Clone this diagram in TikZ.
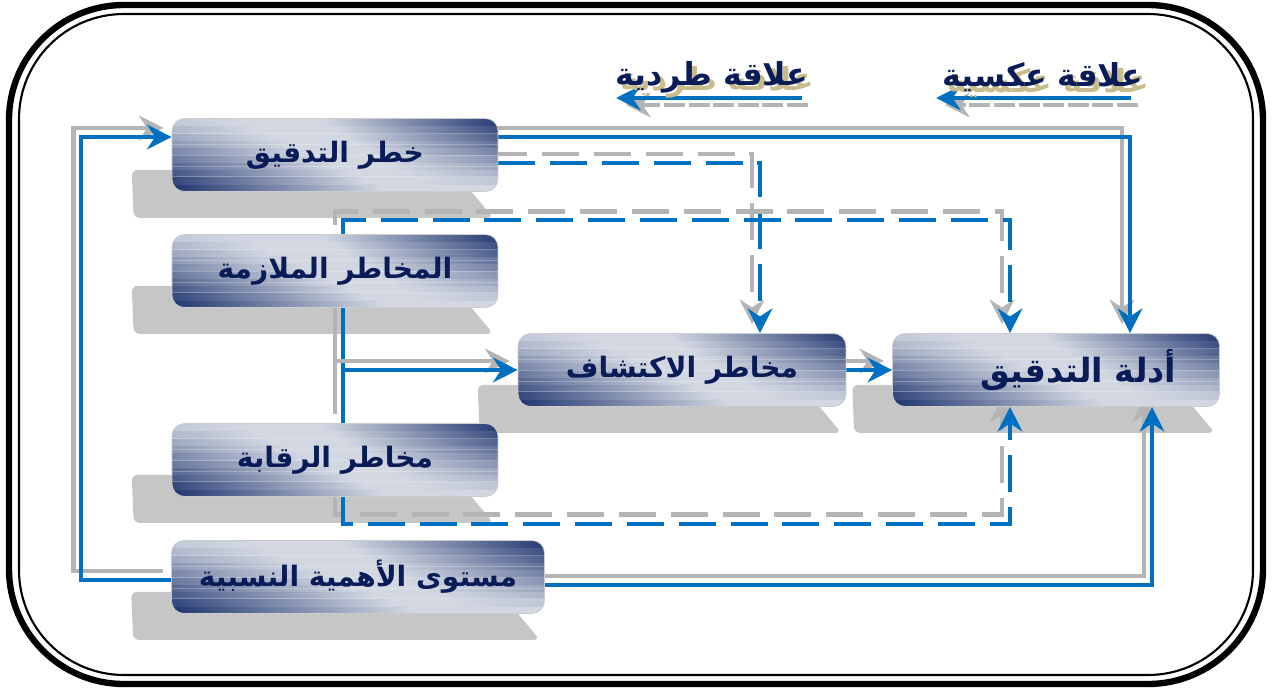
\documentclass[tikz,border=0pt]{standalone}
\usepackage{fontspec}
\usetikzlibrary{arrows.meta,calc}
\newfontfamily\arabicfont[Script=Arabic]{DejaVu Sans}
\TeXXeTstate=1
\definecolor{linkblue}{RGB}{0,112,192}
\definecolor{linkgray}{RGB}{180,180,180}
\definecolor{boxnavy}{RGB}{26,48,108}
\definecolor{boxlight}{RGB}{210,215,225}
\definecolor{textnavy}{RGB}{10,28,88}
\definecolor{sandshade}{RGB}{200,188,140}
\pgfdeclarelayer{shadows}
\pgfdeclarelayer{lines}
\pgfsetlayers{shadows,lines,main}
\newcommand\artext[1]{{\arabicfont\bfseries\beginR #1\endR}}
\newcommand\sandtext[1]{\makebox[0pt][l]{\kern3pt\raisebox{-3pt}{\color{sandshade}\artext{#1}}}\artext{#1}}
\newcommand\relink[2]{\draw[linkshade,#1] #2; \draw[linkline,#1] #2;}
\newcommand\boxshadow[1]{\fill[boxshade] ($(#1.south west)+(-40,-22)$) -- ($(#1.south east)+(-45,-22)$) -- ($(#1.south east)+(-5,26)$) -- ($(#1.south west)+(-38,26)$) -- cycle;}

\begin{document}
\begin{tikzpicture}[x=0.02cm,y=-0.02cm,>={Stealth[length=14pt,width=14pt,inset=4.5pt]},
    riskbox/.style={fill=boxlight,rounded corners=0.25cm,draw=gray!40,line width=0.4pt,
        minimum width=6.52cm,minimum height=1.46cm,inner sep=0pt,text=textnavy,font=\fontsize{16}{19}\selectfont,
        path picture={
            \foreach \i in {0,...,9}{
                \pgfmathsetmacro\stlo{\i/10}
                \pgfmathsetmacro\sthi{(\i+1)/10}
                \pgfmathtruncatemacro\stdk{96*(1-\i/10)}
                \pgfmathsetmacro\stwd{0.64-0.048*\i}
                \pgfmathtruncatemacro\stdr{92*\i/9}
                \pgfmathsetmacro\stwr{0.78-0.035*\i}
                \coordinate (a) at ($(path picture bounding box.south west)!\stlo!(path picture bounding box.north west)$);
                \coordinate (b) at ($(path picture bounding box.south west)!\sthi!(path picture bounding box.north west)$);
                \coordinate (c) at ($(path picture bounding box.south west)!\stwd!(path picture bounding box.south east)$);
                \coordinate (d) at ($(path picture bounding box.south west)!\stwr!(path picture bounding box.south east)$);
                \coordinate (e) at ($(path picture bounding box.south east)!\sthi!(path picture bounding box.north east)$);
                \shade[sharp corners,left color=boxnavy!\stdk!boxlight,right color=boxlight] (a) rectangle (c |- b);
                \shade[sharp corners,left color=boxlight,right color=boxnavy!\stdr!boxlight] (d |- a) rectangle (e);
            }
            \foreach \k in {0.2,0.35,...,0.9}
                \draw[sharp corners,white,opacity=0.25,line width=0.5pt] ($(path picture bounding box.south west)!\k!(path picture bounding box.north west)$) -- ($(path picture bounding box.south east)!\k!(path picture bounding box.north east)$);}},
    boxshade/.style={fill=gray!45,rounded corners=0.12cm},
    linkline/.style={linkblue,line width=2.3pt},
    linkshade/.style={linkgray,line width=2.8pt,transform canvas={shift={(-8,-9)}}},
    brokenline/.style={dash pattern=on 21pt off 8.5pt},
    legendtext/.style={inner sep=0pt,text=textnavy,font=\fontsize{18}{21}\selectfont}]
    \useasboundingbox (0,0) rectangle (1272,689);
    \draw[line width=3.6pt,rounded corners=2.3cm] (9,5) rectangle (1263,684);
    \draw[line width=1.2pt,rounded corners=2.1cm] (19,14) rectangle (1253,675);

    \node[riskbox] (ar) at (335,155) {\artext{خطر التدقيق}};
    \node[riskbox] (inh) at (335,271) {\artext{المخاطر الملازمة}};
    \node[riskbox,minimum width=6.56cm] (det) at (682,370) {\artext{مخاطر الاكتشاف}};
    \node[riskbox,minimum width=6.54cm,font=\fontsize{19}{23}\selectfont] (ev) at (1056,370) {\hspace*{0.9cm}\artext{أدلة التدقيق}};
    \node[riskbox] (ctl) at (335,460) {\artext{مخاطر الرقابة}};
    \node[riskbox,minimum width=7.46cm] (mat) at (358,577) {\artext{مستوى الأهمية النسبية}};

    \node[legendtext] (legdir) at (712,80) {\sandtext{علاقة طردية}};
    \node[legendtext] (leginv) at (1043,80) {\sandtext{علاقة عكسية}};

    \coordinate (inhtop) at ($(inh.north)+(8,0)$);
    \coordinate (inhbot) at ($(inh.south)+(8,0)$);
    \coordinate (ctlbot) at ($(ctl.south)+(8,0)$);

    \begin{pgfonlayer}{shadows}
        \boxshadow{ar}
        \boxshadow{inh}
        \boxshadow{det}
        \boxshadow{ev}
        \boxshadow{ctl}
        \boxshadow{mat}
    \end{pgfonlayer}

    \begin{pgfonlayer}{lines}
        \draw[->,linkgray,line width=2.3pt,dash pattern=on 12pt off 2pt] ($(legdir.center)+(96,25)$) -- ($(legdir.center)+(-86,25)$);
        \draw[->,linkline] ($(legdir.center)+(90,18)$) -- ($(legdir.center)+(-96,18)$);
        \draw[->,linkgray,line width=2.3pt,dash pattern=on 12pt off 2pt] ($(leginv.center)+(95,25)$) -- ($(leginv.center)+(-98,25)$);
        \draw[->,linkline] ($(leginv.center)+(88,18)$) -- ($(leginv.center)+(-107,18)$);

        \relink{->}{($(ar.east)+(0,-18)$) -| ($(ev.north)+(74,0)$)}
        \relink{->,brokenline}{($(ar.east)+(0,8)$) -| ($(det.north)+(78,0)$)}
        \relink{->,brokenline}{(inhtop) -- ++(0,-14) -| ($(ev.north)+(-46,0)$)}
        \relink{}{(inhbot) -- ($(ctl.north)+(8,0)$)}
        \relink{->}{(inhbot |- det.west) -- (det.west)}
        \relink{->}{(det.east) -- (ev.west)}
        \relink{->,brokenline}{(ctlbot) -- ++(0,27) -| ($(ev.south)+(-46,0)$)}
        \relink{->}{($(mat.east)+(0,8)$) -| ($(ev.south)+(96,0)$)}
        \relink{->}{($(mat.west)+(0,3)$) -- ++(-90,0) |- ($(ar.west)+(0,-18)$)}
    \end{pgfonlayer}
\end{tikzpicture}
\end{document}
